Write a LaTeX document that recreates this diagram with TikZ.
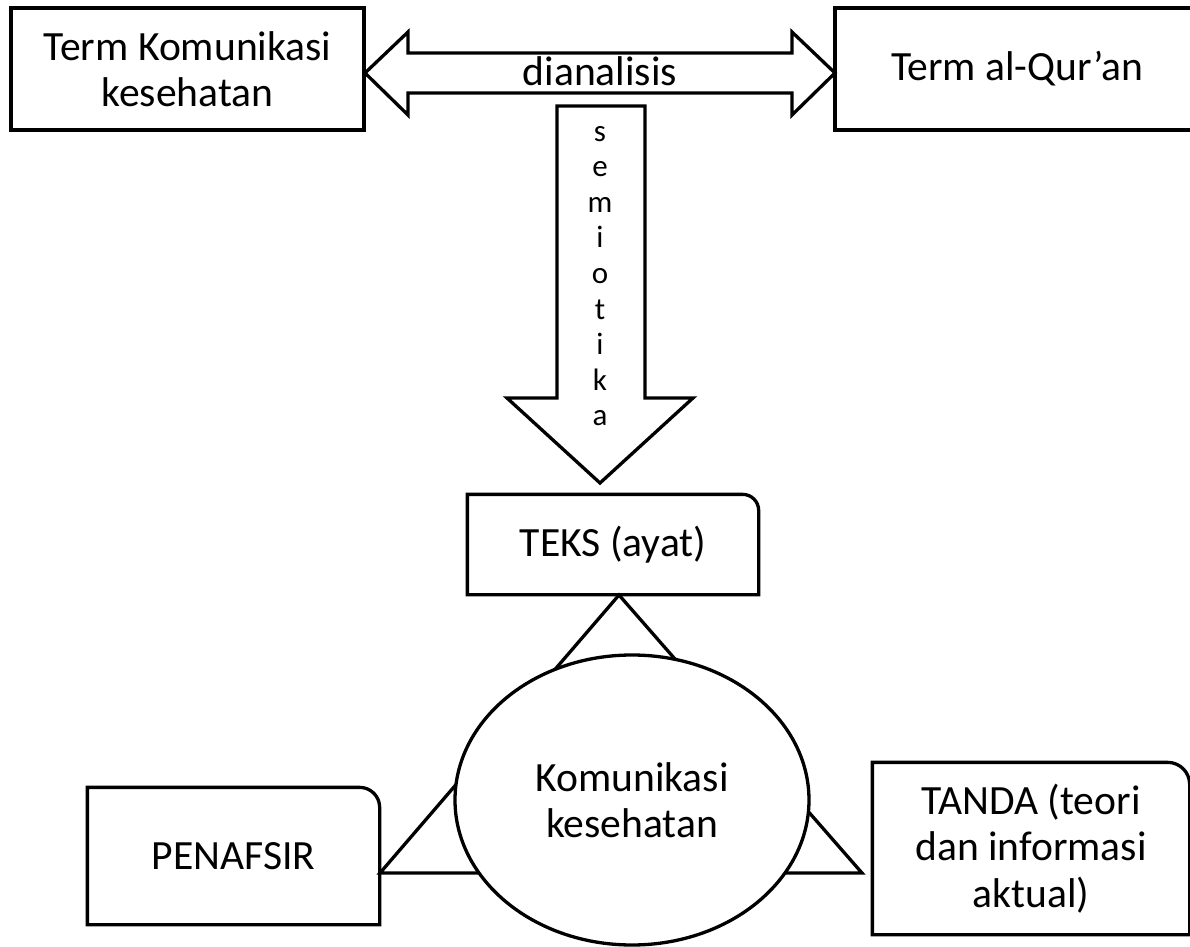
\documentclass[tikz,border=0pt]{standalone}
\usepackage{fontspec}
\setmainfont{Carlito}
\usetikzlibrary{shapes.geometric}
\begin{document}
\begin{tikzpicture}[x=0.5pt,y=-0.5pt,line width=1.65pt,line join=miter,
  txt/.style={font=\fontsize{20.8}{23.2}\selectfont,align=center,inner sep=0pt},
  sqbox/.style={txt,draw,rectangle},
  tabbox/.style={txt,rectangle,draw=none},
  vtxt/.style={font=\fontsize{15.5}{17.8}\selectfont,align=center,inner sep=0pt},
  shapeline/.style={draw=black,fill=white}]
\useasboundingbox (0,0) rectangle (1190,947);

% top boxes
\node[sqbox,minimum width=176.5pt,minimum height=61pt] (kom) at (187.5,69) {Term Komunikasi\\kesehatan};
\node[sqbox,minimum width=182pt,minimum height=61pt] (quran) at (1017,69) {Term al-Qur’an};

% double block arrow
\draw[shapeline] (365,73) -- (408,32) -- (408,53) -- (792,53) -- (792,32) -- (835,73)
  -- (792,115) -- (792,93) -- (408,93) -- (408,115) -- cycle;
\node[txt] (dian) at (600,71) {dianalisis};

% down block arrow
\draw[shapeline] (557,106) -- (645,106) -- (645,398) -- (693,398) -- (600,483)
  -- (507,398) -- (557,398) -- cycle;
\node[vtxt] (semi) at (600,276) {s\\e\\m\\i\\o\\t\\i\\k\\a};

% triangle behind the ellipse
\coordinate (tA) at (619,595);
\coordinate (tB) at (380,873);
\coordinate (tC) at (862,873);
\draw (tA) -- (tB) -- (tC) -- cycle;

% ellipse
\node[txt,ellipse,draw,fill=white,minimum width=177pt,minimum height=145pt] (ell) at (632,800) {Komunikasi\\kesehatan};

% boxes with one rounded corner
\node[tabbox,minimum width=144pt,minimum height=48.5pt] (teks) at (613,544.5) {TEKS (ayat)};
\draw (teks.south west) -- (teks.north west) -- ([xshift=-8pt]teks.north east)
  arc[start angle=90,end angle=0,radius=8pt] -- (teks.south east) -- cycle;

\node[tabbox,minimum width=144.5pt,minimum height=67pt] (pen) at (233.5,856) {PENAFSIR};
\draw (pen.south west) -- (pen.north west) -- ([xshift=-10pt]pen.north east)
  arc[start angle=90,end angle=0,radius=10pt] -- (pen.south east) -- cycle;

\node[tabbox,minimum width=157pt,minimum height=84.5pt] (tanda) at (1031,848.5) {TANDA (teori\\dan informasi\\aktual)};
\draw (tanda.south west) -- (tanda.north west) -- ([xshift=-11pt]tanda.north east)
  arc[start angle=90,end angle=0,radius=11pt] -- (tanda.south east) -- cycle;
\end{tikzpicture}
\end{document}
